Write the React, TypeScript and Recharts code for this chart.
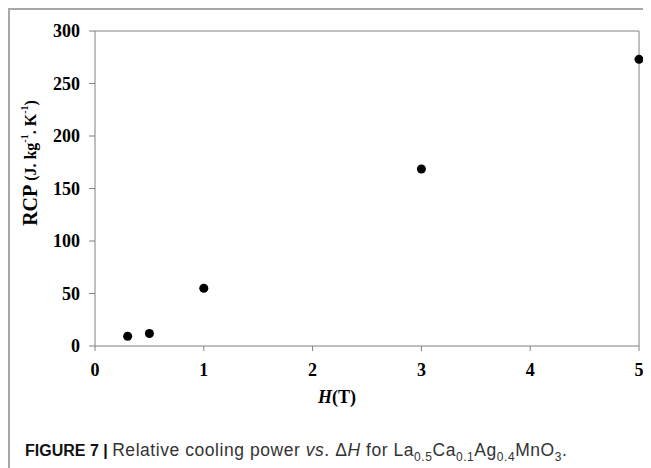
import { ScatterChart, Scatter, XAxis, YAxis, ReferenceLine } from 'recharts';

const fieldValues = [0.3, 0.5, 1, 3, 5];
const rcpValues = [9.3, 11.9, 55, 168.6, 273];
const xTicks = [0, 1, 2, 3, 4, 5];
const yTicks = [0, 50, 100, 150, 200, 250, 300];

const data = fieldValues.map((h, i) => ({ h, rcp: rcpValues[i] }));

const axisColor = '#808080';
const tickStyle = {
  fill: '#000',
  fontFamily: '"Liberation Serif", serif',
  fontWeight: 'bold',
  fontSize: 18,
};

function YLabel() {
  return (
    <text
      x={22}
      y={155}
      transform="rotate(-90 22 155)"
      textAnchor="middle"
      dominantBaseline="central"
      fontFamily='"Liberation Serif", serif'
      fontWeight="bold"
      fill="#000"
    >
      <tspan fontSize={20}>RCP </tspan>
      <tspan fontSize={16}>(J. kg</tspan>
      <tspan fontSize={10} dy={-6}>-1</tspan>
      <tspan fontSize={16} dy={6}>. K</tspan>
      <tspan fontSize={10} dy={-6}>-1</tspan>
      <tspan fontSize={16} dy={6}>)</tspan>
    </text>
  );
}

function XLabel() {
  return (
    <text
      x={329}
      y={389}
      textAnchor="middle"
      dominantBaseline="central"
      fontFamily='"Liberation Serif", serif'
      fontWeight="bold"
      fontSize={18}
      fill="#000"
    >
      <tspan fontStyle="italic">H</tspan>
      <tspan>(T)</tspan>
    </text>
  );
}

export default function App() {
  return (
    <div
      style={{
        position: 'relative',
        width: 641,
        height: 458,
        overflow: 'hidden',
        borderTop: '2px solid #a8a8a8',
        borderLeft: '2px solid #a8a8a8',
        background: '#fff',
      }}
    >
      <div style={{ position: 'absolute', left: -2, top: -2 }}>
        <ScatterChart width={643} height={400} margin={{ top: 23, right: 12, bottom: 31, left: 0 }}>
          <XAxis
            type="number"
            dataKey="h"
            domain={[0, 5]}
            ticks={xTicks}
            height={31}
            stroke={axisColor}
            tick={tickStyle}
            tickSize={5}
            tickMargin={12}
            label={<XLabel />}
          />
          <YAxis
            type="number"
            dataKey="rcp"
            domain={[0, 300]}
            ticks={yTicks}
            width={87}
            stroke={axisColor}
            tick={tickStyle}
            tickSize={6}
            tickMargin={9}
            label={<YLabel />}
          />
          <ReferenceLine y={300} stroke={axisColor} strokeWidth={1} />
          <ReferenceLine x={5} stroke={axisColor} strokeWidth={1} />
          <Scatter data={data} fill="#000" isAnimationActive={false} />
        </ScatterChart>
      </div>
      <div
        style={{
          position: 'absolute',
          left: 15,
          top: 431,
          fontFamily: '"Liberation Sans", Arial, sans-serif',
          fontSize: 17.5,
          lineHeight: '18px',
          color: '#333',
          whiteSpace: 'nowrap',
        }}
      >
        <span style={{ fontWeight: 'bold', color: '#111', fontSize: 16 }}>FIGURE 7 | </span>
        <span style={{ letterSpacing: 0.55 }}>
          Relative cooling power <i>vs</i>. Δ<i>H</i> for La
          <sub style={{ fontSize: 12 }}>0.5</sub>Ca<sub style={{ fontSize: 12 }}>0.1</sub>Ag
          <sub style={{ fontSize: 12 }}>0.4</sub>MnO<sub style={{ fontSize: 12 }}>3</sub>.
        </span>
      </div>
    </div>
  );
}
